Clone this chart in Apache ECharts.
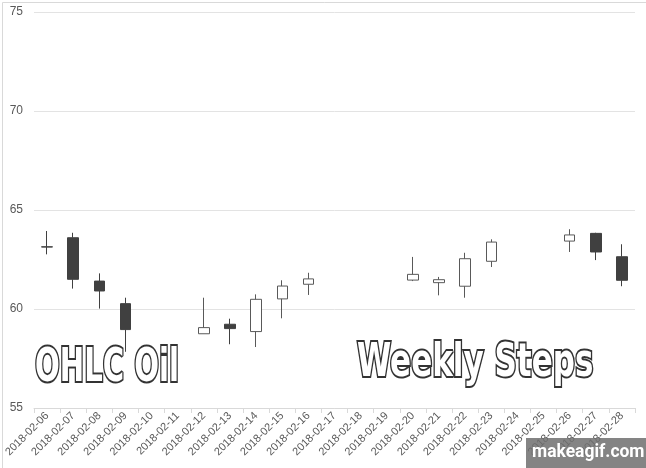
<!DOCTYPE html>
<html>
<head>
<meta charset="utf-8">
<script src="https://cdn.jsdelivr.net/npm/echarts@6/dist/echarts.min.js"></script>
<style>
  html, body { margin: 0; padding: 0; background: #fff; }
  #main { width: 646px; height: 468px; }
</style>
</head>
<body>
<div id="main"></div>
<script>
// dates on the x axis, '-' means no trading that day
const dates = ['2018-02-06', '2018-02-07', '2018-02-08', '2018-02-09', '2018-02-10', '2018-02-11',
  '2018-02-12', '2018-02-13', '2018-02-14', '2018-02-15', '2018-02-16', '2018-02-17', '2018-02-18',
  '2018-02-19', '2018-02-20', '2018-02-21', '2018-02-22', '2018-02-23', '2018-02-24', '2018-02-25',
  '2018-02-26', '2018-02-27', '2018-02-28'];
const openVals  = [63.14, 63.60, 61.41, 60.27, '-', '-', 58.75, 59.23, 58.86, 60.51, 61.25, '-', '-', '-', 61.46, 61.33, 61.15, 62.41, '-', '-', 63.43, 63.82, 62.64];
const closeVals = [63.13, 61.50, 60.91, 58.96, '-', '-', 59.06, 59.01, 60.49, 61.16, 61.52, '-', '-', '-', 61.75, 61.48, 62.54, 63.38, '-', '-', 63.74, 62.88, 61.45];
const lowVals   = [62.76, 61.03, 60.02, 57.84, '-', '-', 58.75, 58.22, 58.08, 59.53, 60.71, '-', '-', '-', 61.41, 60.69, 60.57, 62.12, '-', '-', 62.88, 62.47, 61.15];
const highVals  = [63.94, 63.85, 61.80, 60.57, '-', '-', 60.57, 59.51, 60.74, 61.45, 61.83, '-', '-', '-', 62.63, 61.62, 62.84, 63.52, '-', '-', 64.03, 63.85, 63.27];
const yTicks = [55, 60, 65, 70, 75];

var chartDom = document.getElementById('main');
var myChart = echarts.init(chartDom);

const ohlc = dates.map(function (d, i) {
  if (openVals[i] === '-') return ['-', '-', '-', '-'];
  return [openVals[i], closeVals[i], lowVals[i], highVals[i]];
});

const titleFont = 'bold 47px "DejaVu Sans", sans-serif';

var option = {
  animation: false,
  backgroundColor: '#fff',
  grid: { left: 34, right: 11, top: 12, bottom: 60 },
  xAxis: {
    type: 'category',
    data: dates,
    boundaryGap: true,
    axisLine: { lineStyle: { color: '#d9d9d9' } },
    axisTick: { show: true, length: 5, lineStyle: { color: '#d9d9d9' } },
    axisLabel: { rotate: 45, color: '#595959', fontSize: 11, fontFamily: 'Liberation Sans', margin: 6, interval: 0 },
    splitLine: { show: false }
  },
  yAxis: {
    type: 'value',
    min: yTicks[0],
    max: yTicks[yTicks.length - 1],
    interval: 5,
    axisLine: { show: false },
    axisTick: { show: false },
    axisLabel: { color: '#595959', fontSize: 12, fontFamily: 'Liberation Sans', margin: 11 },
    splitLine: { lineStyle: { color: '#e3e3e3' } }
  },
  series: [{
    type: 'candlestick',
    data: ohlc,
    barWidth: '42%',
    itemStyle: {
      color: '#ffffff',
      color0: '#404040',
      borderColor: '#595959',
      borderColor0: '#404040',
      borderWidth: 1
    }
  }],
  graphic: [
    {
      type: 'rect', left: 0, top: 0, z: -1,
      shape: { width: 645, height: 467 },
      style: { fill: 'none', stroke: '#d9d9d9', lineWidth: 1 }
    },
    {
      type: 'text', x: 35, y: 345, scaleX: 0.62, z: 100,
      style: {
        text: 'OHLC Oil', font: titleFont, verticalAlign: 'top',
        fill: '#ffffff', stroke: '#333333', lineWidth: 4
      }
    },
    {
      type: 'text', x: 357, y: 340, scaleX: 0.66, z: 100,
      style: {
        text: 'Weekly Steps', font: titleFont, verticalAlign: 'top',
        fill: '#ffffff', stroke: '#333333', lineWidth: 4
      }
    },
    {
      type: 'rect', left: 526, top: 438, z: 100,
      shape: { width: 120, height: 30 },
      style: { fill: 'rgba(110,110,110,0.85)' }
    },
    {
      type: 'text', x: 532, y: 443, scaleX: 0.92, z: 101,
      style: { text: 'makeagif.com', font: 'bold 19px Roboto, sans-serif', fill: '#ffffff', verticalAlign: 'top' }
    }
  ]
};

option && myChart.setOption(option);
</script>
</body>
</html>
